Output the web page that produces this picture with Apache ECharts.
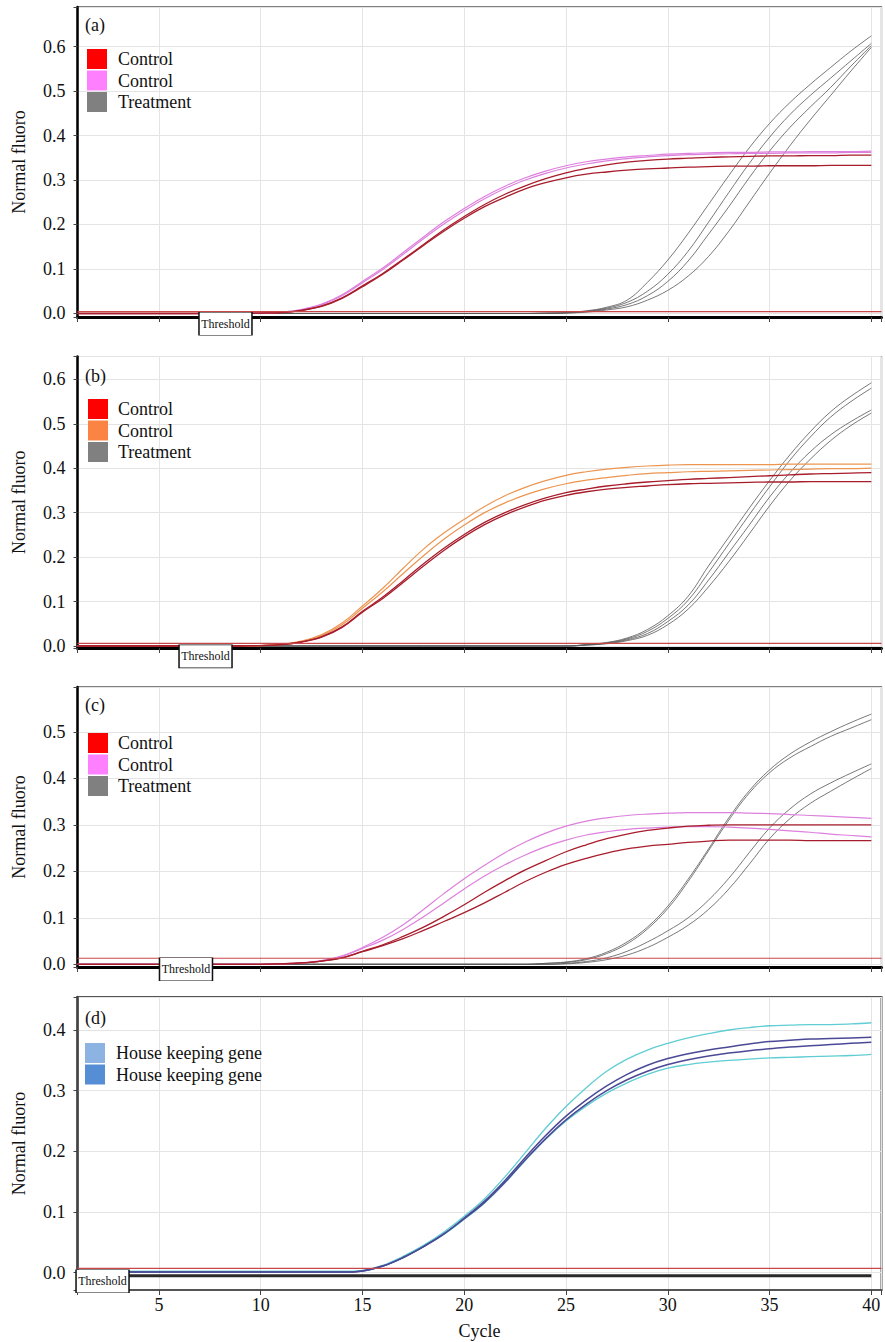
<!DOCTYPE html>
<html>
<head>
<meta charset="utf-8">
<title>Amplification curves</title>
<script src="https://cdn.jsdelivr.net/npm/echarts@6/dist/echarts.min.js"></script>
<style>
html, body { margin: 0; padding: 0; background: #fff; }
#chart { width: 885px; height: 1342px; }
</style>
</head>
<body>
<div id="chart"></div>
<script>
// cycle numbers shared by every panel
var cycles = [1,2,3,4,5,6,7,8,9,10,11,12,13,14,15,16,17,18,19,20,21,22,23,24,25,26,27,28,29,30,31,32,33,34,35,36,37,38,39,40];
var yTickStep = 0.1;
var xTickStep = 5;

// threshold level of each panel
var thresholds = [0.004, 0.006, 0.013, 0.0073];

// legend texts
var legendA = ['Control', 'Control', 'Treatment'];
var legendB = ['Control', 'Control', 'Treatment'];
var legendC = ['Control', 'Control', 'Treatment'];
var legendD = ['House keeping gene', 'House keeping gene'];
var panelTags = ['(a)', '(b)', '(c)', '(d)'];

// (a)
var aPink1 = [0,0,0,0,0,0,0,0,0,0.001, 0.003,0.009,0.021,0.042,0.072,0.102,0.137,0.172,0.206,0.236, 0.263,0.286,0.305,0.32,0.332,0.341,0.347,0.352,0.355,0.358, 0.36,0.361,0.362,0.362,0.363,0.363,0.364,0.364,0.364,0.365];
var aPink2 = [0,0,0,0,0,0,0,0,0,0.001, 0.003,0.008,0.02,0.04,0.069,0.099,0.133,0.168,0.201,0.231, 0.258,0.281,0.3,0.315,0.327,0.336,0.343,0.348,0.352,0.355, 0.357,0.358,0.359,0.36,0.36,0.361,0.361,0.361,0.362,0.362];
var aRed1 = [0,0,0,0,0,0,0,0,0,0.001, 0.002,0.007,0.017,0.035,0.062,0.09,0.122,0.155,0.188,0.218, 0.245,0.268,0.287,0.303,0.316,0.326,0.334,0.34,0.344,0.347, 0.349,0.351,0.352,0.353,0.354,0.354,0.355,0.355,0.356,0.356];
var aRed2 = [0,0,0,0,0,0,0,0,0,0.001, 0.002,0.007,0.016,0.034,0.06,0.088,0.12,0.153,0.185,0.214, 0.24,0.261,0.28,0.294,0.305,0.313,0.318,0.322,0.325,0.327, 0.329,0.33,0.331,0.331,0.332,0.332,0.332,0.333,0.333,0.333];
var aTr1 = [0,0,0,0,0,0,0,0,0,0, 0,0,0,0,0,0,0,0,0,0, 0,0,0,0.001,0.002,0.006,0.014,0.03,0.07,0.12, 0.18,0.245,0.31,0.372,0.427,0.474,0.515,0.553,0.59,0.624];
var aTr2 = [0,0,0,0,0,0,0,0,0,0, 0,0,0,0,0,0,0,0,0,0, 0,0,0,0.001,0.002,0.005,0.012,0.025,0.05,0.088, 0.14,0.205,0.272,0.337,0.396,0.447,0.49,0.529,0.568,0.607];
var aTr3 = [0,0,0,0,0,0,0,0,0,0, 0,0,0,0,0,0,0,0,0,0, 0,0,0,0,0.001,0.004,0.01,0.02,0.04,0.072, 0.118,0.178,0.24,0.305,0.365,0.418,0.464,0.508,0.556,0.602];
var aTr4 = [0,0,0,0,0,0,0,0,0,0, 0,0,0,0,0,0,0,0,0,0, 0,0,0,0,0.001,0.003,0.008,0.015,0.03,0.052, 0.084,0.128,0.185,0.25,0.315,0.377,0.435,0.49,0.545,0.598];

// (b)
var bOrange1 = [0,0,0,0,0,0,0,0,0,0.001, 0.004,0.011,0.026,0.052,0.09,0.13,0.175,0.218,0.254,0.285, 0.314,0.338,0.357,0.372,0.384,0.392,0.398,0.402,0.405,0.407, 0.408,0.408,0.408,0.408,0.408,0.409,0.409,0.409,0.409,0.409];
var bOrange2 = [0,0,0,0,0,0,0,0,0,0.001, 0.003,0.01,0.024,0.048,0.085,0.122,0.163,0.203,0.24,0.272, 0.3,0.322,0.34,0.354,0.365,0.373,0.379,0.384,0.388,0.39, 0.392,0.393,0.394,0.395,0.396,0.397,0.398,0.399,0.399,0.4];
var bRed1 = [0,0,0,0,0,0,0,0,0,0.001, 0.003,0.009,0.021,0.043,0.078,0.11,0.147,0.185,0.22,0.251, 0.278,0.3,0.318,0.333,0.345,0.353,0.36,0.365,0.369,0.372, 0.375,0.377,0.379,0.381,0.383,0.385,0.387,0.388,0.389,0.39];
var bRed2 = [0,0,0,0,0,0,0,0,0,0.001, 0.003,0.009,0.02,0.042,0.076,0.107,0.143,0.18,0.215,0.246, 0.273,0.295,0.313,0.328,0.339,0.347,0.353,0.357,0.36,0.363, 0.365,0.366,0.367,0.368,0.369,0.369,0.37,0.37,0.37,0.37];
var bTr1 = [0,0,0,0,0,0,0,0,0,0, 0,0,0,0,0,0,0,0,0,0, 0,0,0,0,0,0.003,0.008,0.018,0.037,0.068, 0.112,0.18,0.245,0.31,0.372,0.43,0.482,0.527,0.562,0.592];
var bTr2 = [0,0,0,0,0,0,0,0,0,0, 0,0,0,0,0,0,0,0,0,0, 0,0,0,0,0,0.003,0.007,0.016,0.033,0.062, 0.103,0.165,0.23,0.295,0.358,0.418,0.47,0.515,0.55,0.58];
var bTr3 = [0,0,0,0,0,0,0,0,0,0, 0,0,0,0,0,0,0,0,0,0, 0,0,0,0,0,0.002,0.006,0.014,0.028,0.055, 0.092,0.148,0.21,0.272,0.335,0.39,0.437,0.475,0.505,0.531];
var bTr4 = [0,0,0,0,0,0,0,0,0,0, 0,0,0,0,0,0,0,0,0,0, 0,0,0,0,0,0.002,0.005,0.012,0.024,0.048, 0.083,0.133,0.19,0.252,0.315,0.372,0.42,0.462,0.496,0.524];

// (c)
var cPink1 = [0,0,0,0,0,0,0,0,0,0, 0.001,0.003,0.008,0.018,0.036,0.058,0.085,0.118,0.152,0.184, 0.213,0.24,0.263,0.282,0.297,0.308,0.315,0.32,0.323,0.325, 0.326,0.326,0.326,0.325,0.324,0.322,0.32,0.318,0.316,0.314];
var cPink2 = [0,0,0,0,0,0,0,0,0,0, 0.001,0.003,0.008,0.017,0.034,0.052,0.075,0.102,0.132,0.162, 0.19,0.214,0.235,0.253,0.267,0.278,0.285,0.29,0.293,0.295, 0.296,0.296,0.295,0.293,0.29,0.287,0.284,0.28,0.277,0.274];
var cRed1 = [0,0,0,0,0,0,0,0,0,0, 0.001,0.003,0.007,0.014,0.028,0.042,0.06,0.08,0.103,0.128, 0.155,0.18,0.203,0.223,0.242,0.257,0.27,0.28,0.288,0.293, 0.297,0.299,0.3,0.3,0.3,0.3,0.3,0.3,0.3,0.3];
var cRed2 = [0,0,0,0,0,0,0,0,0,0, 0.001,0.003,0.007,0.014,0.027,0.04,0.055,0.073,0.092,0.111, 0.132,0.155,0.178,0.198,0.215,0.228,0.239,0.248,0.254,0.258, 0.262,0.265,0.267,0.267,0.267,0.267,0.266,0.266,0.266,0.266];
var cTr1 = [0,0,0,0,0,0,0,0,0,0, 0,0,0,0,0,0,0,0,0,0, 0,0,0,0.002,0.005,0.012,0.026,0.048,0.08,0.125, 0.183,0.248,0.315,0.373,0.418,0.452,0.478,0.5,0.52,0.538];
var cTr2 = [0,0,0,0,0,0,0,0,0,0, 0,0,0,0,0,0,0,0,0,0, 0,0,0,0.002,0.004,0.01,0.023,0.044,0.076,0.12, 0.178,0.244,0.31,0.368,0.412,0.444,0.468,0.49,0.508,0.526];
var cTr3 = [0,0,0,0,0,0,0,0,0,0, 0,0,0,0,0,0,0,0,0,0, 0,0,0,0,0.002,0.006,0.014,0.028,0.048,0.072, 0.1,0.138,0.185,0.24,0.293,0.334,0.366,0.39,0.411,0.431];
var cTr4 = [0,0,0,0,0,0,0,0,0,0, 0,0,0,0,0,0,0,0,0,0, 0,0,0,0,0.001,0.004,0.01,0.02,0.036,0.058, 0.084,0.118,0.162,0.215,0.27,0.313,0.346,0.372,0.397,0.421];

// (d)
var dCyan1 = [0.002,0.002,0.002,0.002,0.002,0.002,0.002,0.002,0.002,0.002, 0.002,0.002,0.002,0.002,0.004,0.012,0.027,0.045,0.067,0.093, 0.122,0.158,0.198,0.238,0.274,0.305,0.332,0.352,0.367,0.378, 0.387,0.394,0.4,0.404,0.407,0.408,0.409,0.409,0.41,0.412];
var dBlue1 = [0.001,0.001,0.001,0.001,0.001,0.001,0.001,0.001,0.001,0.001, 0.001,0.001,0.001,0.001,0.003,0.011,0.025,0.043,0.064,0.09, 0.118,0.152,0.19,0.226,0.258,0.285,0.308,0.327,0.342,0.353, 0.361,0.367,0.372,0.377,0.381,0.383,0.385,0.386,0.387,0.388];
var dBlue2 = [0.001,0.001,0.001,0.001,0.001,0.001,0.001,0.001,0.001,0.001, 0.001,0.001,0.001,0.001,0.003,0.011,0.025,0.043,0.064,0.089, 0.116,0.149,0.186,0.221,0.252,0.278,0.3,0.318,0.332,0.343, 0.351,0.357,0.362,0.366,0.369,0.372,0.374,0.376,0.378,0.38];
var dCyan2 = [0.002,0.002,0.002,0.002,0.002,0.002,0.002,0.002,0.002,0.002, 0.002,0.002,0.002,0.002,0.003,0.011,0.025,0.043,0.063,0.088, 0.115,0.148,0.185,0.22,0.25,0.275,0.296,0.313,0.327,0.337, 0.343,0.347,0.35,0.352,0.354,0.355,0.356,0.357,0.358,0.36];
var dBase = [-0.005,-0.005,-0.005,-0.005,-0.005,-0.005,-0.005,-0.005,-0.005,-0.005, -0.005,-0.005,-0.005,-0.005,-0.005,-0.005,-0.005,-0.005,-0.005,-0.005, -0.005,-0.005,-0.005,-0.005,-0.005,-0.005,-0.005,-0.005,-0.005,-0.005, -0.005,-0.005,-0.005,-0.005,-0.005,-0.005,-0.005,-0.005,-0.005,-0.005];

var FONT = '"Liberation Serif", "Times New Roman", serif';
var RED = '#a81d2c', PINK = '#dd80dd', ORANGE = '#ec9550', GREY = '#555555';
var CYAN = '#5fcdd3', NAVY = '#4b4996';

// layout of the four panels (pixels)
var layout = [
    { top: 7,     height: 310,   yMin: -0.0079, yMax: 0.6888, tagY: 25,   legY: 49,   legX: 87, textX: 118, thrCycle: 8.27, thrOff: 12, border: '#000' },
    { top: 356.5, height: 291.5, yMin: -0.0045, yMax: 0.6513, tagY: 376,  legY: 399,  legX: 88, textX: 118, thrCycle: 7.29, thrOff: 13, border: '#000' },
    { top: 687,   height: 280,   yMin: -0.0058, yMax: 0.5963, tagY: 705,  legY: 733,  legX: 88, textX: 118, thrCycle: 6.33, thrOff: 11, border: '#000' },
    { top: 997,   height: 293,   yMin: -0.0285, yMax: 0.4544, tagY: 1018, legY: 1043, legX: 85, textX: 116, thrCycle: 2.23, thrOff: 13, border: '#555' }
];

var curves = [
    [[aTr1, GREY, 0.8], [aTr2, GREY, 0.8], [aTr3, GREY, 0.8], [aTr4, GREY, 0.8],
     [aPink1, PINK, 1.2], [aPink2, PINK, 1.2], [aRed1, RED, 1.3], [aRed2, RED, 1.3]],
    [[bTr1, GREY, 0.8], [bTr2, GREY, 0.8], [bTr3, GREY, 0.8], [bTr4, GREY, 0.8],
     [bOrange1, ORANGE, 1.2], [bOrange2, ORANGE, 1.2], [bRed1, RED, 1.3], [bRed2, RED, 1.3]],
    [[cTr1, GREY, 0.8], [cTr2, GREY, 0.8], [cTr3, GREY, 0.8], [cTr4, GREY, 0.8],
     [cPink1, PINK, 1.2], [cPink2, PINK, 1.2], [cRed1, RED, 1.3], [cRed2, RED, 1.3]],
    [[dBase, '#2a2a2a', 3], [dCyan1, CYAN, 1.3], [dCyan2, CYAN, 1.3], [dBlue1, NAVY, 1.5], [dBlue2, NAVY, 1.5]]
];

var legends = [
    [[legendA[0], '#ff0000'], [legendA[1], '#ff80ff'], [legendA[2], '#808080']],
    [[legendB[0], '#ff0000'], [legendB[1], '#fb8445'], [legendB[2], '#808080']],
    [[legendC[0], '#ff0000'], [legendC[1], '#ff80ff'], [legendC[2], '#808080']],
    [[legendD[0], '#8db3e2'], [legendD[1], '#558ed5']]
];

function onStep(v, step) {
    var k = v / step;
    return Math.abs(k - Math.round(k)) < 1e-6;
}

var myChart = echarts.init(document.getElementById('chart'), null, { renderer: 'svg' });

var grids = [], xAxes = [], yAxes = [], series = [], graphics = [];

layout.forEach(function (p, i) {
    var last = i === layout.length - 1;
    grids.push({ left: 77.5, width: 804, top: p.top, height: p.height, show: true,
        borderColor: p.border, borderWidth: last ? 2 : 1.2, backgroundColor: '#fff' });
    xAxes.push({
        type: 'value', gridIndex: i, min: 1, max: 40.5,
        minInterval: xTickStep, maxInterval: xTickStep,
        axisLine: { show: true, onZero: false, lineStyle: { color: last ? '#555' : '#000', width: last ? 2 : 3 } },
        axisTick: { show: true, length: 5, lineStyle: { color: '#444' } },
        splitLine: { show: true, lineStyle: { color: '#e4e4e4', width: 1 } },
        axisLabel: { show: last, fontFamily: FONT, fontSize: 18, color: '#111', margin: 6,
            formatter: function (v) { return onStep(v, xTickStep) ? String(v) : ''; } },
        name: last ? 'Cycle' : '', nameLocation: 'middle', nameGap: 32,
        nameTextStyle: { fontFamily: FONT, fontSize: 18, color: '#111' }
    });
    yAxes.push({
        type: 'value', gridIndex: i, min: p.yMin, max: p.yMax,
        minInterval: yTickStep, maxInterval: yTickStep,
        axisLine: { show: true, lineStyle: { color: last ? '#444' : '#000', width: 2.5 } },
        axisTick: { show: true, length: 4, lineStyle: { color: '#444' } },
        splitLine: { show: true, lineStyle: { color: '#e4e4e4', width: 1 } },
        axisLabel: { fontFamily: FONT, fontSize: 18, color: '#111', margin: 12,
            formatter: function (v) { return onStep(v, yTickStep) ? v.toFixed(1) : ''; } },
        name: 'Normal fluoro', nameLocation: 'middle', nameGap: 50,
        nameTextStyle: { fontFamily: FONT, fontSize: 18, color: '#111' }
    });

    curves[i].forEach(function (c) {
        series.push({
            type: 'line', xAxisIndex: i, yAxisIndex: i, symbol: 'none', silent: true,
            smooth: 0.4,
            data: cycles.map(function (cy, k) { return [cy, c[0][k]]; }),
            lineStyle: { color: c[1], width: c[2] }
        });
    });

    // threshold line with its label box
    series.push({
        type: 'line', xAxisIndex: i, yAxisIndex: i, symbol: 'none', silent: true, z: 3,
        data: [[1, thresholds[i]], [40.5, thresholds[i]]],
        lineStyle: { color: '#c8474a', width: 1.2 },
        markPoint: {
            silent: true, animation: false,
            data: [{
                coord: [p.thrCycle, thresholds[i]],
                symbol: 'rect', symbolSize: [53, 23], symbolOffset: [0, p.thrOff],
                itemStyle: { color: '#fff', borderColor: '#111', borderWidth: 1 },
                label: { show: true, position: 'inside', formatter: 'Threshold',
                    color: '#111', fontFamily: FONT, fontSize: 12 }
            }]
        }
    });

    graphics.push({ type: 'text', x: 85, y: p.tagY, z: 100,
        style: { text: panelTags[i], fill: '#111', font: '18px ' + FONT, verticalAlign: 'middle' } });

    legends[i].forEach(function (l, k) {
        var y0 = p.legY + k * 21.5;
        graphics.push({ type: 'rect', z: 100, shape: { x: p.legX, y: y0, width: 20, height: 20 },
            style: { fill: l[1] } });
        graphics.push({ type: 'text', x: p.textX, y: y0 + 10, z: 100,
            style: { text: l[0], fill: '#111', font: '18px ' + FONT, verticalAlign: 'middle' } });
    });
});

var option = {
    animation: false,
    backgroundColor: '#fff',
    grid: grids,
    xAxis: xAxes,
    yAxis: yAxes,
    series: series,
    graphic: graphics
};

myChart.setOption(option);
window.addEventListener('resize', function () {
    myChart.resize();
});
</script>
</body>
</html>
